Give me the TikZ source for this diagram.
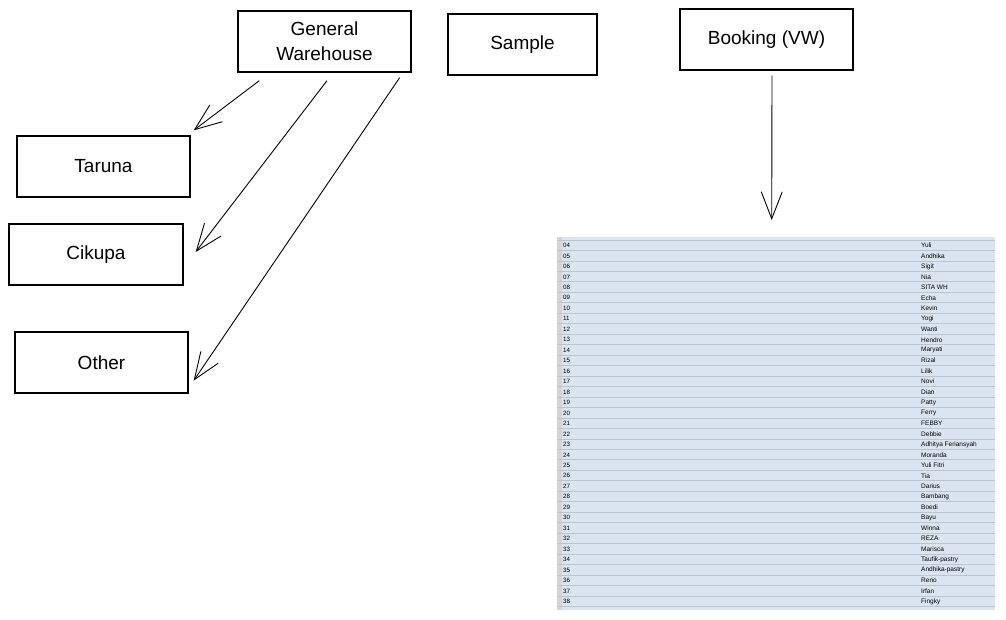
\documentclass[tikz,border=0pt]{standalone}
\usepackage{fontspec}
\setmainfont{Liberation Sans}
\usetikzlibrary{arrows.meta}

\definecolor{tablefill}{RGB}{219,229,241}
\definecolor{rowline}{RGB}{188,196,204}
\definecolor{rowhead}{RGB}{212,212,212}

\tikzset{
    sketchbox/.style={draw, line width=1.3pt, minimum height=61pt, inner sep=0pt,
        align=center, font=\fontsize{19}{25}\selectfont},
    sketcharrow/.style={line width=0.9pt, -{Straight Barb[length=27pt,width=21pt,line width=0.9pt]}},
    cellnum/.style={anchor=west, inner sep=0pt, font=\fontsize{6.2}{6}\selectfont},
    cellname/.style={anchor=west, inner sep=0pt, font=\fontsize{6.5}{6}\selectfont}
}

\begin{document}
\begin{tikzpicture}[x=1pt, y=-1pt]
    \useasboundingbox (0,0) rectangle (1006,620);

    % Boxes on the top row
    \node[sketchbox, minimum width=173pt] (warehouse) at (324.5,41.5) {General\\Warehouse};
    \node[sketchbox, minimum width=149pt] (sample) at (522.5,44.5) {Sample};
    \node[sketchbox, minimum width=173pt] (booking) at (766.5,39.5) {Booking (VW)};

    % Boxes on the left
    \node[sketchbox, minimum width=173pt] (taruna) at (103.5,166.5) {Taruna};
    \node[sketchbox, minimum width=174pt] (cikupa) at (96,254.5) {Cikupa};
    \node[sketchbox, minimum width=173pt] (other) at (101.5,362.5) {Other};

    % Booking list
    \node[fill=tablefill, minimum width=438pt, minimum height=373pt, inner sep=0pt,
        anchor=north west] (bookinglist) at (557,237) {};
    \fill[rowhead] (557,237) rectangle (562,610);
    \foreach \k in {0,...,35} {
        \draw[rowline, line width=0.8pt] (557,{240+10.47*\k}) -- (995,{240+10.47*\k});
    }
    \foreach \num/\name [count=\k from 0] in {04/Yuli, 05/Andhika, 06/Sigit, 07/Nia,
        08/SITA WH, 09/Echa, 10/Kevin, 11/Yogi, 12/Wanti, 13/Hendro, 14/Maryati,
        15/Rizal, 16/Lilik, 17/Novi, 18/Dian, 19/Patty, 20/Ferry, 21/FEBBY,
        22/Debbie, 23/Adhitya Feriansyah, 24/Moranda, 25/Yuli Fitri, 26/Tia,
        27/Darius, 28/Bambang, 29/Boedi, 30/Bayu, 31/Winna, 32/REZA, 33/Marisca,
        34/Taufik-pastry, 35/Andhika-pastry, 36/Reno, 37/Irfan, 38/Fingky} {
        \node[cellnum] (num\k) at (563,{245.5+10.47*\k}) {\num};
        \node[cellname] (name\k) at (921,{245.5+10.47*\k}) {\name};
    }

    % Arrows
    \draw[sketcharrow] ([xshift=22pt,yshift=-8pt]warehouse.south west) -- ([xshift=3pt,yshift=5pt]taruna.north east);
    \draw[sketcharrow] ([xshift=2.5pt,yshift=-8pt]warehouse.south) -- ([xshift=12pt,yshift=2.5pt]cikupa.east);
    \draw[sketcharrow] ([xshift=-12pt,yshift=-5pt]warehouse.south east) -- ([xshift=5pt,yshift=13pt]other.south east);
    \draw[sketcharrow] ([xshift=5.5pt,yshift=-5pt]booking.south) -- ([xshift=-4.5pt,yshift=17pt]bookinglist.north);
\end{tikzpicture}
\end{document}
